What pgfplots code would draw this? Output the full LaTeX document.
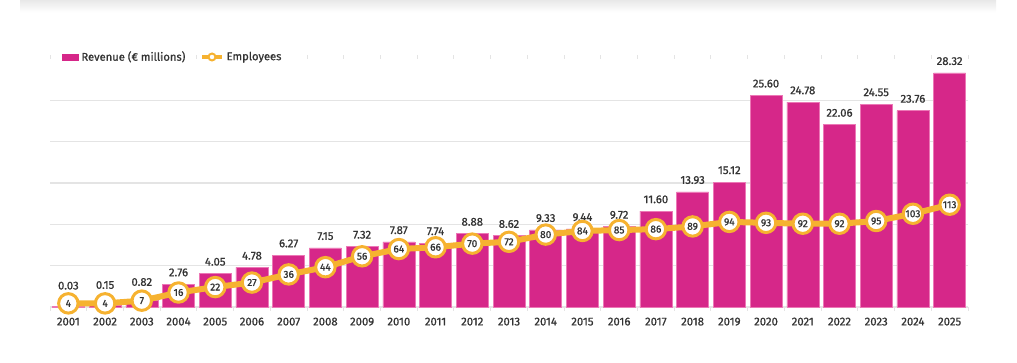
\documentclass[border=0pt]{standalone}
\usepackage{pgfplots}
\pgfplotsset{compat=1.18}
\usepackage{pgfplotstable}
\usepackage{fontspec}
\setmainfont{Fira Sans}[FakeBold=0.9,AutoFakeBold=0.9]
\definecolor{barpink}{RGB}{214,39,137}
\definecolor{baredge}{RGB}{236,120,182}
\definecolor{emporange}{RGB}{246,178,48}
\definecolor{txt}{RGB}{51,51,51}
\definecolor{gridc}{RGB}{228,228,228}
\pgfplotstableread{
x rev ly emp
0 0.03 2.58 4
1 0.15 2.66 4
2 0.82 3.02 7
3 2.76 4.18 16
4 4.05 5.47 22
5 4.78 6.20 27
6 6.27 7.69 36
7 7.15 8.57 44
8 7.32 8.74 56
9 7.87 9.29 64
10 7.74 9.16 66
11 8.88 10.30 70
12 8.62 10.04 72
13 9.33 10.75 80
14 9.44 10.86 84
15 9.72 11.14 85
16 11.60 13.02 86
17 13.93 15.35 89
18 15.12 16.54 94
19 25.60 27.02 93
20 24.78 26.20 92
21 22.06 23.48 92
22 24.55 25.97 95
23 23.76 25.18 103
24 28.32 29.74 113
}\data
\begin{document}
\begin{tikzpicture}
\path[use as bounding box] (0,0) rectangle (762.75pt,272.25pt);
\shade[top color=black!9, bottom color=white] (15pt,272.25pt) rectangle (747pt,263pt);
\begin{axis}[
  at={(37.5pt,42pt)}, anchor=south west,
  width=688.5pt, height=186pt, scale only axis,
  xmin=-0.5, xmax=24.5, ymin=0, ymax=30,
  clip=false,
  axis line style={draw=none},
  ytick={0,5,10,15,20,25}, yticklabels={}, ymajorgrids,
  major grid style={draw=gridc, line width=1pt},
  xtick={0,...,24},
  xticklabels={2001,2002,2003,2004,2005,2006,2007,2008,2009,2010,2011,2012,2013,2014,2015,2016,2017,2018,2019,2020,2021,2022,2023,2024,2025},
  minor xtick={-0.5,0.5,...,24.5},
  tick align=outside, major tick length=0pt, minor tick length=3pt,
  tick style={draw=gridc, line width=0.75pt},
  xticklabel style={font=\bfseries\fontsize{8.5}{10}\selectfont, text=txt, yshift=-4.5pt},
  legend style={at={(rel axis cs:0,1)}, anchor=west, xshift=9pt, yshift=1.5pt,
    draw=none, fill=none, inner sep=0pt, font=\bfseries\fontsize{8.4}{10}\selectfont, text=txt,
    legend columns=2, /tikz/every even column/.append style={column sep=9pt}},
]
\addplot[ybar, bar width=24pt, bar shift=0pt, fill=barpink, draw=baredge, line width=0.4pt,
  legend image code/.code={\fill[barpink] (0pt,-2.25pt) rectangle (12pt,2.25pt);}]
  table[x=x, y=rev] {\data};
\addlegendentry{Revenue (€ millions)}
\addlegendimage{legend image code/.code={\draw[emporange, line width=3pt] (0pt,0pt) -- (15pt,0pt); \draw[emporange, fill=white, line width=1.5pt] (7.5pt,0pt) circle (2.6pt);}}
\addlegendentry{Employees}
\addplot[draw=none, mark=none, nodes near coords, point meta=explicit symbolic,
  every node near coord/.append style={anchor=center, font=\bfseries\fontsize{8.5}{10}\selectfont, text=txt}]
  table[x=x, y=ly, meta=rev] {\data};
\end{axis}
\begin{axis}[
  at={(37.5pt,42pt)}, anchor=south west,
  width=688.5pt, height=186pt, scale only axis,
  xmin=-0.5, xmax=24.5, ymin=0, ymax=274,
  axis lines=none, clip=false,
]
\addplot[emporange, line width=4.5pt, line join=round, mark=*, mark size=7.3pt,
  mark options={fill=white, draw=emporange, line width=2.25pt},
  nodes near coords, point meta=explicit symbolic,
  every node near coord/.append style={anchor=center, font=\bfseries\fontsize{7.6}{9}\selectfont, text=txt}]
  table[x=x, y=emp, meta=emp] {\data};
\end{axis}
\end{tikzpicture}
\end{document}
